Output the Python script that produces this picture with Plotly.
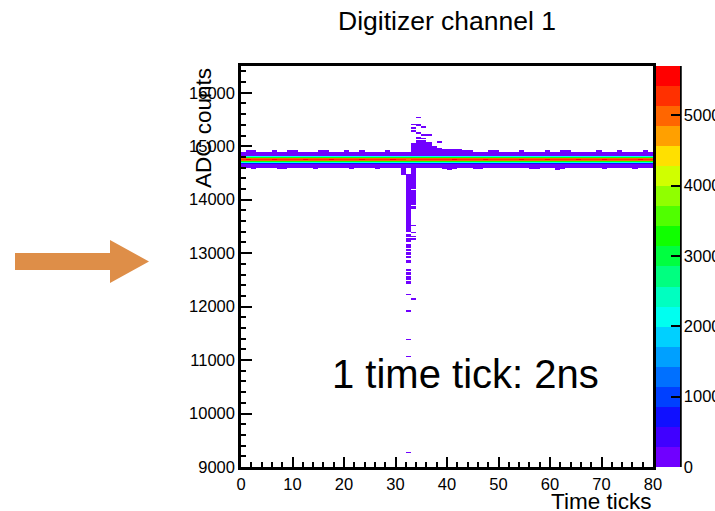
import numpy as np
import plotly.graph_objects as go

# ---------------- histogram binning ----------------
time_min, time_max, time_bin = 0, 80, 1
adc_min, adc_max, adc_bin = 9000, 16500, 20

# ---------------- pedestal band ----------------
pedestal_adc = 14750
# counts per ADC bin, offsets in bins relative to the pedestal bin (top to bottom)
band_offsets = [7, 6, 5, 4, 3, 2, 1, 0, -1, -2, -3, -4, -5, -6, -7]
band_counts = [20, 60, 150, 260, 2200, 3300, 5000, 0, 5050, 3300, 2100, 800, 240, 110, 40]
# peak counts of the pedestal bin for every time tick
pedestal_peak = [5300, 5450, 5250, 5350, 5200, 5300, 5500, 5280, 5320, 5250,
                 5380, 5200, 5460, 5300, 5250, 5330, 5200, 5480, 5300, 5260,
                 5350, 5220, 5300, 5470, 5280, 5200, 5330, 5250, 5300, 5440,
                 5280, 5150, 5100, 5200, 5250, 5300, 5220, 5350, 5280, 5250,
                 5300, 5460, 5250, 5300, 5200, 5330, 5280, 5500, 5260, 5300,
                 5220, 5350, 5300, 5250, 5450, 5300, 5200, 5280, 5330, 5480,
                 5260, 5300, 5220, 5350, 5300, 5500, 5250, 5280, 5300, 5220,
                 5460, 5300, 5250, 5330, 5280, 5200, 5300, 5450, 5260, 5300]
# extra sparse bins beyond the band edges for every time tick
band_top_extra = [0, 1, 1, 0, 0, 0, 1, 0, 0, 1, 1, 0, 0, 0, 0, 1, 1, 0, 0, 0,
                  1, 0, 0, 1, 0, 0, 0, 0, 1, 0, 0, 0, 0, 0, 0, 0, 0, 0, 0, 0,
                  0, 0, 0, 0, 0, 0, 0, 0, 1, 1, 0, 0, 0, 0, 1, 0, 0, 0, 0, 1,
                  0, 0, 1, 1, 0, 0, 0, 0, 0, 1, 0, 0, 0, 1, 0, 0, 0, 0, 1, 0]
band_bottom_extra = [0, 0, 1, 0, 0, 0, 0, 1, 1, 0, 0, 0, 0, 0, 1, 0, 0, 0, 0, 0,
                     0, 1, 0, 0, 0, 0, 1, 0, 0, 0, 0, 0, 0, 0, 0, 0, 0, 0, 0, 1,
                     2, 1, 0, 0, 0, 1, 1, 0, 0, 0, 0, 0, 0, 0, 0, 0, 1, 1, 0, 0,
                     0, 2, 1, 0, 0, 0, 0, 0, 0, 0, 1, 0, 0, 0, 0, 0, 1, 0, 0, 0]

# ---------------- pulse: runs of filled bins ----------------
pulse_tick = [33, 33, 33, 33,
              34, 34, 34, 34, 34,
              35, 35, 35, 35,
              36, 36, 37, 38, 38, 39, 40, 41, 41, 42, 42, 43, 44,
              31,
              32, 32, 32, 32,
              33, 33, 33, 33, 33, 33, 33, 33,
              32, 32, 32, 32, 32, 32, 32,
              32, 32, 32, 32,
              32, 33, 32, 32, 32, 32]
pulse_adc_lo = [14900, 15260, 15320, 15400,
                14900, 15140, 15220, 15380, 15520,
                14900, 15140, 15200, 15340,
                14900, 15200, 14900, 14900, 15060, 14900, 14900, 14900, 14920, 14900, 14920, 14900, 14900,
                14460,
                14160, 13820, 13560, 13400,
                14460, 14200, 13900, 13820, 13500, 13380, 13300, 13240,
                13300, 13200, 13100, 13040, 12960, 12900, 12820,
                12660, 12600, 12500, 12420,
                12220, 12120, 11900, 11380, 11070, 9270]
pulse_adc_hi = [15040, 15280, 15340, 15400,
                15100, 15160, 15240, 15400, 15520,
                15100, 15140, 15200, 15360,
                15060, 15200, 14980, 14940, 15080, 14920, 14920, 14900, 14920, 14900, 14920, 14900, 14900,
                14600,
                14460, 14140, 13800, 13540,
                14600, 14440, 14160, 13860, 13500, 13380, 13300, 13260,
                13340, 13260, 13160, 13060, 13000, 12920, 12860,
                12680, 12620, 12560, 12460,
                12220, 12140, 11920, 11380, 11070, 9270]
pulse_counts = [30, 3, 2, 1,
                40, 4, 3, 2, 1,
                35, 3, 2, 2,
                25, 2, 15, 10, 2, 8, 6, 5, 2, 4, 2, 3, 2,
                20,
                30, 25, 15, 8,
                15, 12, 8, 4, 1, 1, 1, 1,
                3, 4, 4, 3, 3, 2, 3,
                2, 2, 3, 3,
                1, 1, 1, 1, 1, 1]

# ---------------- colour palette (20 levels) ----------------
palette = ["#7000ff", "#4000ff", "#1010ff", "#0040ff", "#0070ff",
           "#00a0ff", "#00d0ff", "#00fff0", "#00ffc0", "#00ff80",
           "#00ff40", "#10ff00", "#50ff00", "#90ff00", "#d0ff00",
           "#ffe000", "#ffa000", "#ff6600", "#ff3000", "#ff0000"]
z_max = 5700
colorbar_ticks = [0, 1000, 2000, 3000, 4000, 5000]
adc_ticks = [9000, 10000, 11000, 12000, 13000, 14000, 15000, 16000]

# ---------------- fill the histogram ----------------
x_edges = np.arange(time_min, time_max + time_bin, time_bin)
y_edges = np.arange(adc_min, adc_max + adc_bin, adc_bin)
x_centers = 0.5 * (x_edges[:-1] + x_edges[1:])
y_centers = 0.5 * (y_edges[:-1] + y_edges[1:])
counts = np.zeros((len(y_centers), len(x_centers)))


def ybin(adc):
    return int((adc - adc_min) // adc_bin)


ped = ybin(pedestal_adc)
for ix in range(len(x_centers)):
    for off, c in zip(band_offsets, band_counts):
        counts[ped + off, ix] += pedestal_peak[ix] if off == 0 else c
    for k in range(band_top_extra[ix]):
        counts[ped + 8 + k, ix] += 5
    for k in range(band_bottom_extra[ix]):
        counts[ped - 8 - k, ix] += 5

for t, lo, hi, c in zip(pulse_tick, pulse_adc_lo, pulse_adc_hi, pulse_counts):
    for iy in range(ybin(lo), ybin(hi) + 1):
        counts[iy, t] += c

z = np.where(counts > 0, counts, np.nan)

n = len(palette)
colorscale = []
for i, col in enumerate(palette):
    colorscale.append([i / n, col])
    colorscale.append([(i + 1) / n, col])

# ---------------- layout geometry (pixels) ----------------
W, H = 715, 511
L, R, T, B = 241, 653, 66, 467
pw, ph = R - L, B - T


def px(x):
    return (x - L) / pw


def py(y):
    return (B - y) / ph


font_family = "Liberation Sans, Arial, Helvetica, sans-serif"

fig = go.Figure()
fig.add_trace(go.Heatmap(
    x=x_centers, y=y_centers, z=z,
    colorscale=colorscale, zmin=0, zmax=z_max, zsmooth=False,
    hoverinfo="skip",
    colorbar=dict(
        x=px(656), xanchor="left", xpad=0,
        y=0.5, yanchor="middle", len=1, lenmode="fraction", ypad=0,
        thickness=24, thicknessmode="pixels",
        outlinewidth=0,
        tickvals=colorbar_ticks, ticktext=[str(v) for v in colorbar_ticks],
        ticks="inside", ticklen=9, tickwidth=2, tickcolor="black",
        tickfont=dict(family=font_family, size=16.5, color="black"),
    ),
))

axis_common = dict(
    showline=True, linecolor="black", linewidth=2.5, mirror=True,
    showgrid=False, zeroline=False,
    ticks="inside", tickcolor="black", tickwidth=2,
    tickfont=dict(family=font_family, size=16.5, color="black"),
)
fig.update_xaxes(range=[time_min, time_max], tickmode="linear", tick0=0, dtick=10,
                 ticklen=10,
                 minor=dict(ticks="inside", dtick=2, ticklen=5, tickwidth=2, tickcolor="black"),
                 **axis_common)
fig.update_yaxes(range=[adc_min, adc_max], tickmode="array",
                 tickvals=adc_ticks, ticktext=[str(v) for v in adc_ticks],
                 ticklen=11,
                 minor=dict(ticks="inside", dtick=200, tick0=9000, ticklen=5, tickwidth=2,
                            tickcolor="black"),
                 **axis_common)

# orange pointer arrow on the left
arrow = [(15, 253), (110, 253), (110, 240), (149, 261.5), (110, 283), (110, 270), (15, 270)]
arrow_path = "M " + " L ".join(f"{px(x):.5f},{py(y):.5f}" for x, y in arrow) + " Z"

fig.update_layout(
    width=W, height=H,
    margin=dict(l=L, r=W - R, t=T, b=H - B, autoexpand=False),
    paper_bgcolor="white", plot_bgcolor="white",
    showlegend=False,
    shapes=[
        dict(type="line", xref="paper", yref="paper",
             x0=px(680.5), x1=px(680.5), y0=0, y1=1,
             line=dict(color="black", width=2.5)),
        dict(type="path", xref="paper", yref="paper", path=arrow_path,
             fillcolor="#de8e48", line=dict(width=0)),
    ],
    annotations=[
        dict(text="Digitizer channel 1", xref="paper", yref="paper",
             x=0.5, y=py(21), xanchor="center", yanchor="middle", showarrow=False,
             font=dict(family=font_family, size=26.5, color="black")),
        dict(text="ADC counts", xref="paper", yref="paper", textangle=-90,
             x=px(203), y=1.0, xanchor="center", yanchor="top", showarrow=False,
             font=dict(family=font_family, size=22.5, color="black")),
        dict(text="Time ticks", xref="paper", yref="paper",
             x=1.0, y=py(501), xanchor="right", yanchor="middle", showarrow=False,
             font=dict(family=font_family, size=22.5, color="black")),
        dict(text="1 time tick: 2ns", xref="paper", yref="paper",
             x=px(465.5), y=py(374), xanchor="center", yanchor="middle", showarrow=False,
             font=dict(family=font_family, size=40, color="black")),
    ],
)

fig.write_html("out.html")
